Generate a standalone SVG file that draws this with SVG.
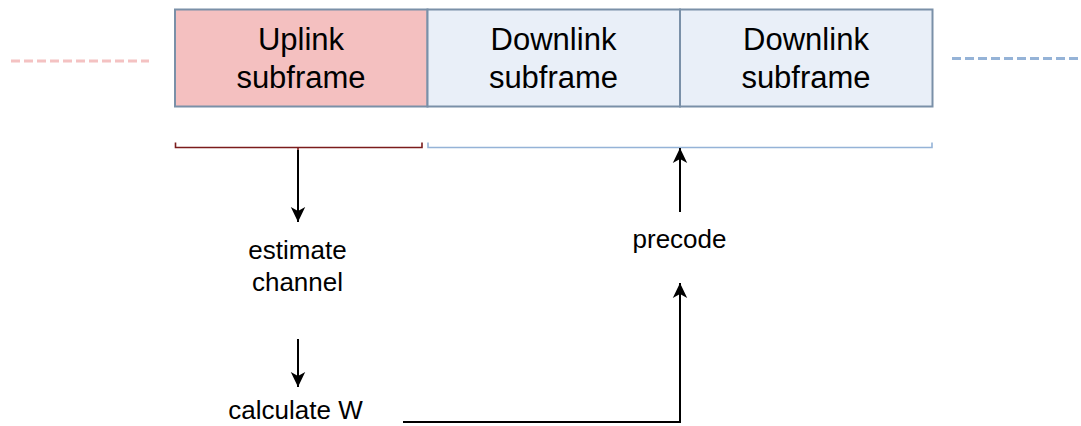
<svg xmlns="http://www.w3.org/2000/svg" width="1081" height="426" viewBox="0 0 1081 426">
<style>
.box{stroke:#7a90a8;stroke-width:2}
.bt{font-family:"Liberation Sans",Arial,sans-serif;font-size:31px;fill:#000;text-anchor:middle}
.lt{font-family:"Liberation Sans",Arial,sans-serif;font-size:26px;fill:#000;text-anchor:middle}
.arr{fill:none;stroke:#000;stroke-width:2;marker-end:url(#ah)}
</style>
<defs>
<marker id="ah" markerUnits="userSpaceOnUse" markerWidth="16" markerHeight="16" viewBox="0 0 16 16" refX="15" refY="8" orient="auto">
<path d="M0,0.8 L15,8 L0,15.2 L4,8 Z" fill="#000"/>
</marker>
</defs>
<g id="dash-left"><line x1="11" y1="61" x2="149" y2="61" stroke="#f4c2c2" stroke-width="3" stroke-dasharray="9 4"/></g>
<g id="dash-right"><line x1="952" y1="58.5" x2="1081" y2="58.5" stroke="#95b3d7" stroke-width="3" stroke-dasharray="9 4"/></g>
<g id="uplink">
<rect class="box" x="175" y="9.5" width="252.5" height="97" fill="#f4c0c0"/>
<text class="bt" x="301" y="50">Uplink</text>
<text class="bt" x="301" y="88">subframe</text>
</g>
<g id="downlink1">
<rect class="box" x="427.5" y="9.5" width="252.5" height="97" fill="#e9eff8"/>
<text class="bt" x="553.5" y="50">Downlink</text>
<text class="bt" x="553.5" y="88">subframe</text>
</g>
<g id="downlink2">
<rect class="box" x="680" y="9.5" width="252.5" height="97" fill="#e9eff8"/>
<text class="bt" x="806" y="50">Downlink</text>
<text class="bt" x="806" y="88">subframe</text>
</g>
<g id="bracket-up"><path d="M175.5,142.5 V147.5 H422 V142.5 M298,147.5 V150" fill="none" stroke="#7b1c1c" stroke-width="1.6"/></g>
<g id="bracket-down"><path d="M428,142.5 V147.5 H932 V142.5" fill="none" stroke="#95b3d7" stroke-width="1.6"/></g>
<g id="estimate"><text class="lt" x="297.5" y="259">estimate</text><text class="lt" x="297.5" y="291">channel</text></g>
<g id="calculate"><text class="lt" x="295.5" y="419">calculate W</text></g>
<g id="precode"><text class="lt" x="679.5" y="248">precode</text></g>
<g id="connectors">
<path class="arr" d="M298,150 V222"/>
<path class="arr" d="M298,339 V387"/>
<path class="arr" d="M403,422 H680 V283"/>
<path class="arr" d="M680,212 V148"/>
</g>
</svg>
